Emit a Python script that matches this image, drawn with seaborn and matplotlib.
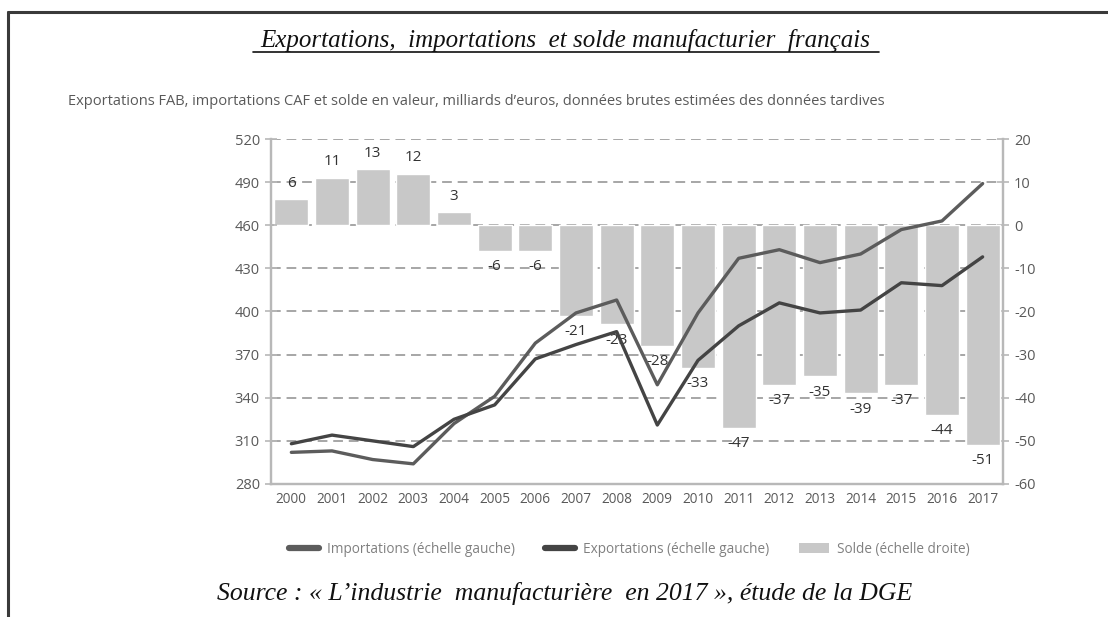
import matplotlib
matplotlib.use("Agg")
import matplotlib.pyplot as plt
import seaborn as sns
import pandas as pd
from matplotlib.lines import Line2D
from matplotlib.patches import Patch

years = [str(y) for y in range(2000, 2018)]
importations = [302, 303, 297, 294, 322, 341, 378, 399, 408, 349, 399, 437, 443, 434, 440, 457, 463, 489]
exportations = [308, 314, 310, 306, 325, 335, 367, 377, 386, 321, 366, 390, 406, 399, 401, 420, 418, 438]
solde = [6, 11, 13, 12, 3, -6, -6, -21, -23, -28, -33, -47, -37, -35, -39, -37, -44, -51]
left_ticks = [280, 310, 340, 370, 400, 430, 460, 490, 520]
right_ticks = [-60, -50, -40, -30, -20, -10, 0, 10, 20]

sns.set_theme(style="white")
plt.rcParams['font.family'] = ['Open Sans', 'DejaVu Sans']

fig = plt.figure(figsize=(11.08, 6.17), dpi=100)
ax = fig.add_axes([0.2446, 0.2156, 0.6606, 0.5591])
ax2 = ax.twinx()

axis_col = "#b8b8b8"
text_col = "#595959"
bar_col = "#c8c8c8"
imp_col = "#5c5c5c"
exp_col = "#444444"

df = pd.DataFrame({"annee": years, "solde": solde})
sns.barplot(data=df, x="annee", y="solde", ax=ax, color=bar_col, width=0.84,
            saturation=1, order=years)
ax.set_ylim(-60, 20)
ax.set_xlim(-0.5, len(years) - 0.5)
ax.set_yticks(right_ticks)
ax.set_yticklabels([str(t) for t in right_ticks])
ax.yaxis.tick_right()
ax.yaxis.set_label_position("right")
ax.set_xlabel("")
ax.set_ylabel("")
ax.grid(axis="y", linestyle=(0, (5, 3)), color="#a6a6a6", linewidth=1.4)
ax.set_axisbelow(True)

ax.bar_label(ax.containers[0], labels=[str(v) for v in solde], padding=6,
             fontsize=11, color="#333333")

pos = list(range(len(years)))
sns.lineplot(x=pos, y=importations, ax=ax2, color=imp_col, linewidth=2.4)
sns.lineplot(x=pos, y=exportations, ax=ax2, color=exp_col, linewidth=2.4)
ax2.set_ylim(280, 520)
ax2.set_yticks(left_ticks)
ax2.set_yticklabels([str(t) for t in left_ticks])
ax2.yaxis.tick_left()
ax2.yaxis.set_label_position("left")
ax2.set_ylabel("")
ax2.grid(False)
ax2.set_xlim(-0.5, len(years) - 0.5)

# x ticks: labels at centers, marks at boundaries
ax.set_xticks(pos)
ax.set_xticklabels(years)
ax.set_xticks([p - 0.5 for p in range(len(years) + 1)], minor=True)
ax.tick_params(axis="x", which="major", length=0, labelsize=9.8, labelcolor=text_col, pad=6)
ax.tick_params(axis="x", which="minor", length=8, direction="inout", color=axis_col, width=1.2)
ax.tick_params(axis="y", which="major", length=8, direction="inout", color=axis_col, width=1.2,
               labelsize=10.5, labelcolor=text_col, pad=4, right=True, left=False)
ax2.tick_params(axis="y", which="major", length=8, direction="inout", color=axis_col, width=1.2,
                labelsize=10.5, labelcolor=text_col, pad=4, left=True, right=False)
ax2.tick_params(axis="x", length=0)

for a in (ax, ax2):
    a.spines["top"].set_visible(False)
    for s in ("left", "right", "bottom"):
        a.spines[s].set_visible(True)
        a.spines[s].set_color(axis_col)
        a.spines[s].set_linewidth(1.6)

serif = ["Liberation Serif", "DejaVu Serif"]

# Title with underline
fig.text(0.510, 0.935, "Exportations,  importations  et solde manufacturier  français",
         ha="center", va="center", fontsize=18, style="italic",
         family=serif, color="#111111")
fig.add_artist(Line2D([0.228, 0.793], [0.916, 0.916], color="#111111", linewidth=1.2))

# Subtitle
fig.text(0.061, 0.836,
         "Exportations FAB, importations CAF et solde en valeur, milliards d\u2019euros, données brutes estimées des données tardives",
         ha="left", va="center", fontsize=10.5, color=text_col)

# Legend
handles = [Line2D([0], [0], color=imp_col, linewidth=4.5),
           Line2D([0], [0], color=exp_col, linewidth=4.5),
           Patch(facecolor=bar_col, edgecolor="none")]
labels = ["Importations (échelle gauche)", "Exportations (échelle gauche)", "Solde (échelle droite)"]
leg = fig.legend(handles, labels, loc="center", bbox_to_anchor=(0.568, 0.110), ncol=3,
                 frameon=False, fontsize=9.8, handlelength=2.2, columnspacing=2.2,
                 handletextpad=0.6)
for t in leg.get_texts():
    t.set_color("#808080")

# Source
fig.text(0.510, 0.038, "Source : « L\u2019industrie  manufacturière  en 2017 », étude de la DGE",
         ha="center", va="center", fontsize=18.5, style="italic",
         family=serif, color="#111111")

# Frame (top and left)
fig.add_artist(Line2D([0.0075, 1.0], [0.981, 0.981], color="#3a3a3a", linewidth=2.2))
fig.add_artist(Line2D([0.0075, 0.0075], [0.0, 0.981], color="#3a3a3a", linewidth=2.2))

fig.savefig("out.png", dpi=100)
